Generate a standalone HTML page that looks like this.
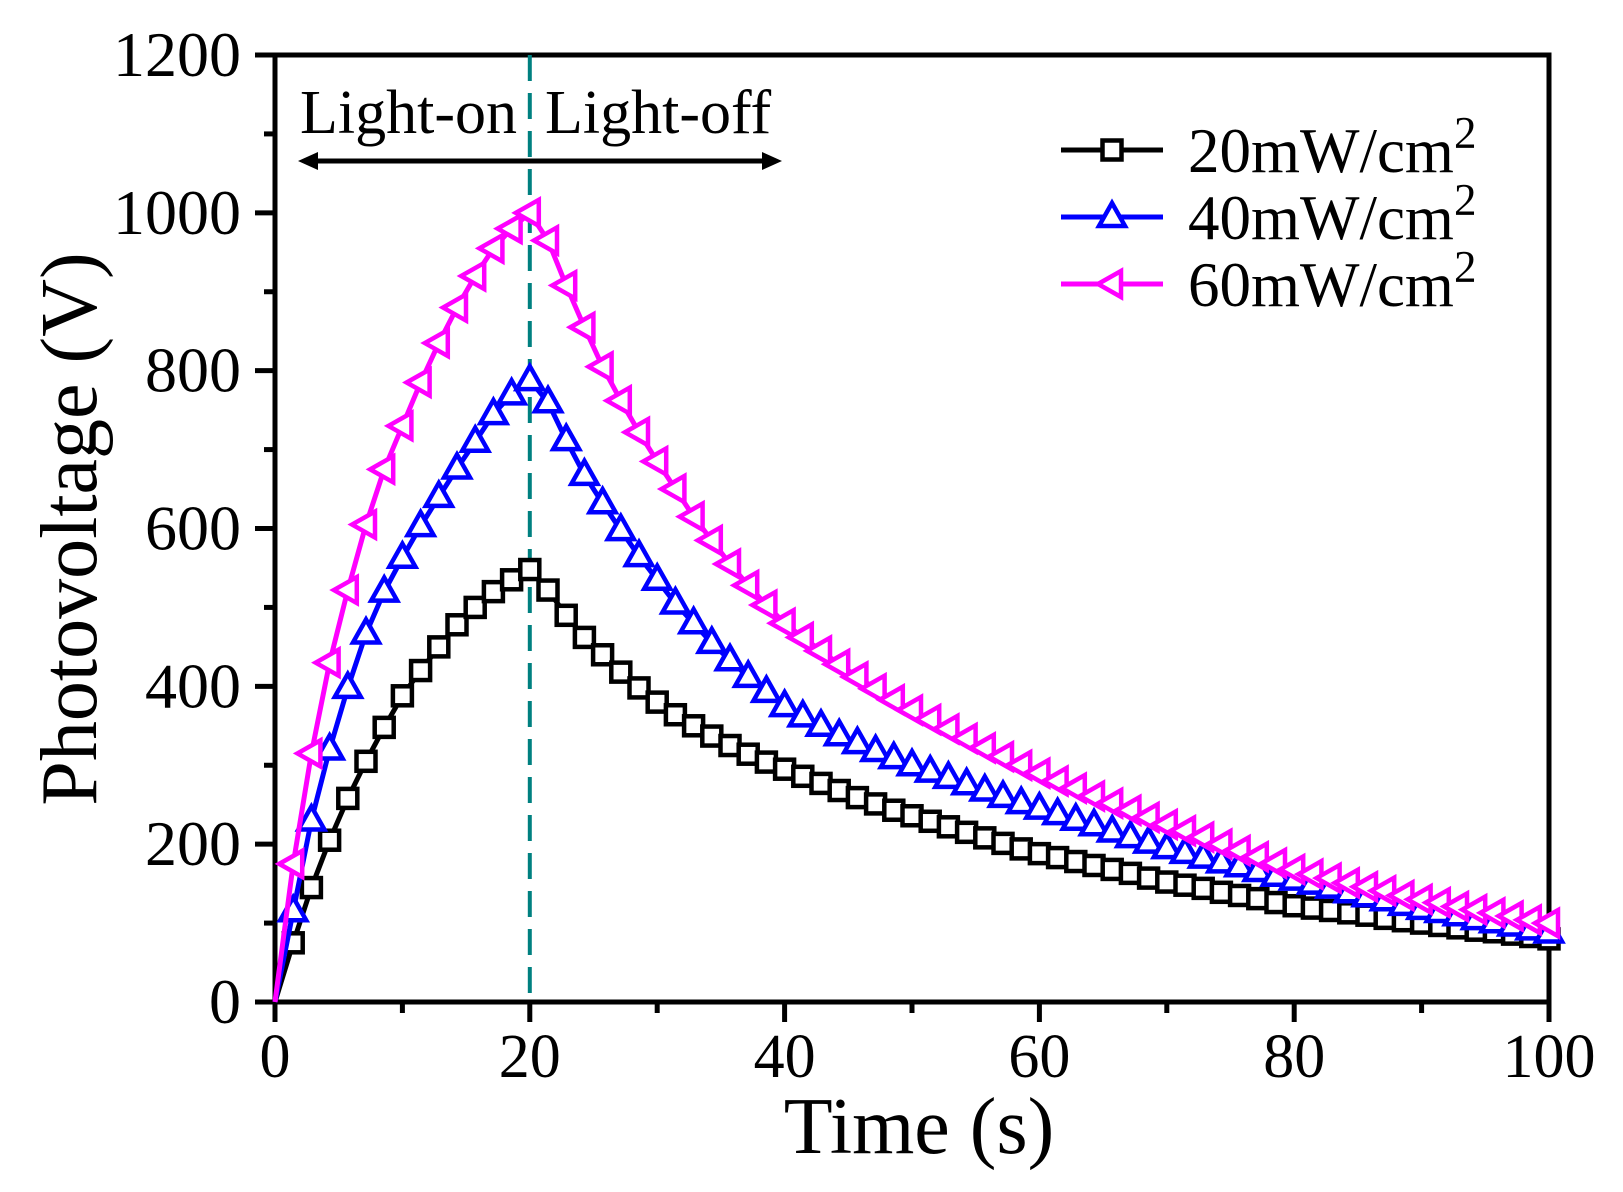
<!DOCTYPE html>
<html><head><meta charset="utf-8"><style>
html,body{margin:0;padding:0;background:#fff;}
svg{display:block;font-family:"Liberation Serif","Times New Roman",serif;}
</style></head><body>
<svg id="chart" width="1623" height="1192" viewBox="0 0 1623 1192" xmlns="http://www.w3.org/2000/svg">
</svg>
<script>
const xTicks = [0,20,40,60,80,100];
const yTicks = [0,200,400,600,800,1000,1200];
const seriesNames = ["20mW/cm","40mW/cm","60mW/cm"];
const black20 = [0,75,145,205,258,305,348,388,420,450,478,500,520,535,548,
522,490,462,440,418,398,380,364,350,337,325,314,304,295,286,277,268,259,251,243,236,
229,222,215,208,201,194,188,183,178,173,168,163,157,152,148,144,139,135,131,126,122,
119,116,113,110,106,103,100,97,94,91,89,86,83,80];
const blue40 = [0,115,230,320,398,467,520,563,603,640,676,710,745,770,788,
760,712,668,632,598,565,535,505,480,455,433,412,393,375,362,350,338,328,318,309,300,
292,284,276,268,260,252,245,238,231,224,216,209,202,195,189,183,177,172,166,160,155,
150,145,139,134,129,123,118,114,110,105,101,97,92,88];
const magenta60 = [0,175,315,430,522,605,675,730,785,835,880,920,955,980,1000,
965,908,855,805,762,722,685,650,615,585,555,528,503,480,462,445,428,412,397,383,370,
358,346,334,322,311,300,290,280,271,261,252,243,234,225,217,209,200,192,184,176,168,
162,157,151,146,141,135,130,126,121,117,113,109,104,100];
const tMax = 100, nPts = 71;

const NS="http://www.w3.org/2000/svg";
const svg=document.getElementById('chart');
const X0=275,X1=1549,Y0=1002,Y1=55;
const sx=v=>X0+(v/100)*(X1-X0);
const sy=v=>Y0-(v/1200)*(Y0-Y1);
function mk(tag,attrs,parent){const e=document.createElementNS(NS,tag);for(const k in attrs)e.setAttribute(k,attrs[k]);(parent||svg).appendChild(e);return e;}

const frame=mk('rect',{x:X0,y:Y1,width:X1-X0,height:Y0-Y1,fill:'none',stroke:'#000','stroke-width':5});



xTicks.forEach(v=>{
  const t=mk('line',{x1:sx(v),x2:sx(v),y1:Y0,y2:Y0+20,stroke:'#000','stroke-width':5});
  
  
  const l=mk('text',{x:sx(v),y:1077,'font-size':62,'text-anchor':'middle'});
  l.textContent=v;
  
  
});
for(let v=10;v<100;v+=20){
  const t=mk('line',{x1:sx(v),x2:sx(v),y1:Y0,y2:Y0+11,stroke:'#000','stroke-width':5});
  
  
}
yTicks.forEach(v=>{
  const t=mk('line',{x1:X0-20,x2:X0,y1:sy(v),y2:sy(v),stroke:'#000','stroke-width':5});
  
  
  const l=mk('text',{x:241,y:sy(v)+21,'font-size':64,'text-anchor':'end'});
  l.textContent=v;
  
  
});
for(let v=100;v<1200;v+=200){
  const t=mk('line',{x1:X0-11,x2:X0,y1:sy(v),y2:sy(v),stroke:'#000','stroke-width':5});
  
  
}
const xt=mk('text',{x:919,y:1153,'font-size':80,'text-anchor':'middle'});
xt.textContent='Time (s)';


const yt=mk('text',{x:0,y:0,'font-size':80,'text-anchor':'middle',transform:'translate(96,529) rotate(-90)'});
yt.textContent='Photovoltage (V)';



const dl=mk('line',{x1:sx(20),x2:sx(20),y1:Y1,y2:Y0,stroke:'#008080','stroke-width':4,'stroke-dasharray':'26 12'});



const a1=mk('text',{x:300,y:133,'font-size':62});
a1.textContent='Light-on';


const a2=mk('text',{x:545,y:133,'font-size':62});
a2.textContent='Light-off';


const ar=mk('g',{});


mk('line',{x1:310,x2:768,y1:161,y2:161,stroke:'#000','stroke-width':5},ar);
mk('polygon',{points:'298,161 318,152 318,170',fill:'#000'},ar);
mk('polygon',{points:'782,161 762,152 762,170',fill:'#000'},ar);

function marker(kind,cx,cy,color,parent){
  if(kind==='sq') return mk('rect',{x:cx-9.5,y:cy-9.5,width:19,height:19,fill:'#fff',stroke:color,'stroke-width':4.5},parent);
  if(kind==='up') return mk('polygon',{points:`${cx},${cy-14} ${cx-13},${cy+9} ${cx+13},${cy+9}`,fill:'#fff',stroke:color,'stroke-width':4.5},parent);
  return mk('polygon',{points:`${cx-14},${cy} ${cx+9},${cy-13} ${cx+9},${cy+13}`,fill:'#fff',stroke:color,'stroke-width':4.5},parent);
}
const seriesDefs=[[black20,'#000','sq','series-20mw'],[blue40,'#0000ff','up','series-40mw'],[magenta60,'#ff00ff','left','series-60mw']];
seriesDefs.forEach(([data,color,kind,name])=>{
  const g=mk('g',{});
  
  
  const pts=data.map((v,i)=>`${sx(i*tMax/(nPts-1))},${sy(v)}`).join(' ');
  mk('polyline',{points:pts,fill:'none',stroke:color,'stroke-width':5,'stroke-linejoin':'round'},g);
  data.forEach((v,i)=>{
    if(i===0)return;
    const m=marker(kind,sx(i*tMax/(nPts-1)),sy(v),color,g);
    
    
  });
});

const legY=[150,217,284];
seriesDefs.forEach(([data,color,kind,name],i)=>{
  const g=mk('g',{});
  
  
  mk('line',{x1:1061,x2:1163,y1:legY[i],y2:legY[i],stroke:color,'stroke-width':5},g);
  marker(kind,1112,legY[i],color,g);
  const t=mk('text',{x:1188,y:legY[i]+22,'font-size':63},g);
  t.textContent=seriesNames[i];
  const s=mk('tspan',{dy:-24,'font-size':45},t);
  s.textContent='2';
});
</script>
</body></html>
